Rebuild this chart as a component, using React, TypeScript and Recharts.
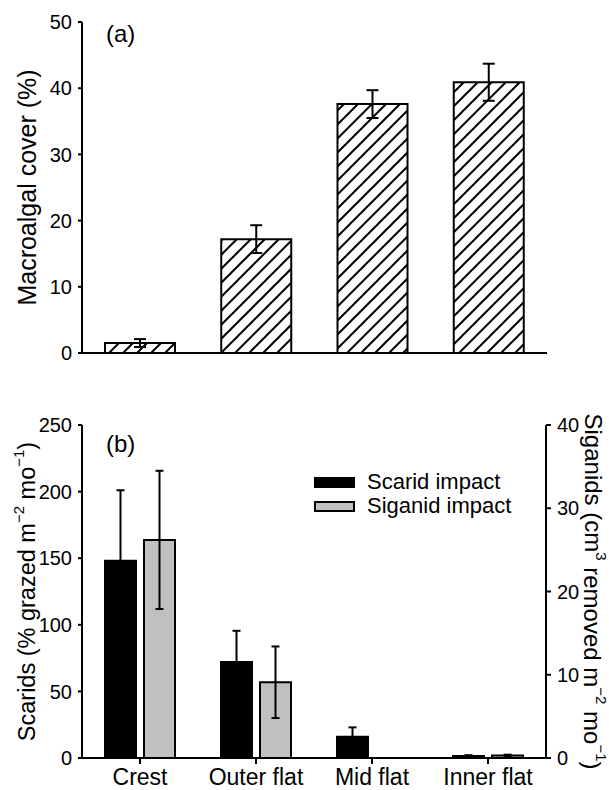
import { BarChart, Bar, XAxis, YAxis, ErrorBar, Legend } from 'recharts';

const zones = ['Crest', 'Outer flat', 'Mid flat', 'Inner flat'];
const coverMean = [1.5, 17.2, 37.6, 40.9];
const coverErr = [0.6, 2.1, 2.1, 2.8];
const scaridMean = [148, 72, 16, 1.5];
const scaridErr = [53, 23.5, 7, 0.6];
const siganidMean = [26.2, 9.1, 0, 0.3];
const siganidErr = [8.3, 4.3, 0, 0.1];
const coverTicks = [0, 10, 20, 30, 40, 50];
const scaridTicks = [0, 50, 100, 150, 200, 250];
const siganidTicks = [0, 10, 20, 30, 40];

const FONT = '"Liberation Sans", Arial, sans-serif';
const axisStyle = { stroke: '#000', strokeWidth: 2 };
const tickStyle = { fontSize: 20, fill: '#000', fontFamily: FONT };

const coverRows = zones.map((z, i) => ({ zone: z, cover: coverMean[i], err: coverErr[i] }));
const grazeRows = zones.map((z, i) => ({
  zone: z,
  scarid: scaridMean[i],
  scaridErr: scaridErr[i],
  siganid: siganidMean[i],
  siganidErr: siganidErr[i],
}));

type VB = { viewBox?: { x: number; y: number; width: number; height: number } };

function LeftTitle({ viewBox, size, children }: VB & { size: number; children: React.ReactNode }) {
  if (!viewBox) return null;
  const cx = viewBox.x + 27;
  const cy = viewBox.y + viewBox.height / 2;
  return (
    <text
      x={cx}
      y={cy}
      transform={`rotate(-90 ${cx} ${cy})`}
      textAnchor="middle"
      dominantBaseline="central"
      fontSize={size}
      fontFamily={FONT}
      fill="#000"
    >
      {children}
    </text>
  );
}

function RightTitle({ viewBox }: VB) {
  if (!viewBox) return null;
  const cx = viewBox.x + 47;
  const cy = viewBox.y + viewBox.height / 2;
  return (
    <text
      x={cx}
      y={cy}
      transform={`rotate(90 ${cx} ${cy})`}
      textAnchor="middle"
      dominantBaseline="central"
      fontSize={24}
      fontFamily={FONT}
      fill="#000"
    >
      Siganids (cm<tspan dy={-9} fontSize={15}>3</tspan>
      <tspan dy={9}> removed m</tspan>
      <tspan dy={-9} fontSize={15}>−2</tspan>
      <tspan dy={9}> mo</tspan>
      <tspan dy={-9} fontSize={15}>−1</tspan>
      <tspan dy={9}>)</tspan>
    </text>
  );
}

function GrazeLegend() {
  const items = [
    { label: 'Scarid impact', fill: '#000' },
    { label: 'Siganid impact', fill: '#c0c0c0' },
  ];
  return (
    <div style={{ fontFamily: FONT, fontSize: 22, color: '#000', lineHeight: '22px' }}>
      {items.map((it) => (
        <div key={it.label} style={{ display: 'flex', alignItems: 'center', height: 24 }}>
          <span
            style={{
              display: 'inline-block',
              width: 37,
              height: 7,
              background: it.fill,
              border: '2px solid #000',
              marginRight: 12,
            }}
          />
          <span>{it.label}</span>
        </div>
      ))}
    </div>
  );
}

export default function App() {
  return (
    <div style={{ position: 'absolute', left: 0, top: 0, width: 609, height: 790, background: '#fff', fontFamily: FONT }}>
      <div style={{ position: 'absolute', left: 0, top: 0 }}>
        <BarChart width={609} height={380} data={coverRows} margin={{ top: 22, right: 62, bottom: 0, left: 0 }} barCategoryGap="20%">
          <defs>
            <pattern id="hatch" patternUnits="userSpaceOnUse" width={14} height={14}>
              <rect width={14} height={14} fill="#fff" />
              <path d="M-1,1 L1,-1 M0,14 L14,0 M13,15 L15,13" stroke="#000" strokeWidth={2} />
            </pattern>
          </defs>
          <XAxis dataKey="zone" height={27} tick={false} tickLine={false} axisLine={axisStyle} />
          <YAxis
            width={82}
            domain={[0, 50]}
            ticks={coverTicks}
            tick={tickStyle}
            tickSize={4}
            tickMargin={6}
            tickLine={axisStyle}
            axisLine={axisStyle}
            label={<LeftTitle size={25}>Macroalgal cover (%)</LeftTitle>}
          />
          <Bar dataKey="cover" fill="url(#hatch)" stroke="#000" strokeWidth={2} barSize={70} isAnimationActive={false}>
            <ErrorBar dataKey="err" width={6} stroke="#000" strokeWidth={2} />
          </Bar>
          <text x={106} y={42} fontSize={24} fontFamily={FONT} fill="#000">(a)</text>
        </BarChart>
      </div>
      <div style={{ position: 'absolute', left: 0, top: 390 }}>
        <BarChart width={609} height={400} data={grazeRows} margin={{ top: 35, right: 0, bottom: 0, left: 0 }} barGap={8}>
          <XAxis
            dataKey="zone"
            height={32}
            tick={{ ...tickStyle, fontSize: 23 }}
            tickSize={6}
            tickMargin={5}
            tickLine={axisStyle}
            axisLine={axisStyle}
            interval={0}
          />
          <YAxis
            yAxisId="left"
            width={82}
            domain={[0, 250]}
            ticks={scaridTicks}
            tick={tickStyle}
            tickSize={4}
            tickMargin={6}
            tickLine={axisStyle}
            axisLine={axisStyle}
            label={
              <LeftTitle size={23.5}>
                Scarids (% grazed m<tspan dy={-9} fontSize={15}>−2</tspan>
                <tspan dy={9}> mo</tspan>
                <tspan dy={-9} fontSize={15}>−1</tspan>
                <tspan dy={9}>)</tspan>
              </LeftTitle>
            }
          />
          <YAxis
            yAxisId="right"
            orientation="right"
            width={63}
            domain={[0, 40]}
            ticks={siganidTicks}
            tick={tickStyle}
            tickSize={5}
            tickMargin={6}
            tickLine={axisStyle}
            axisLine={axisStyle}
            label={<RightTitle />}
          />
          <Legend
            layout="vertical"
            align="center"
            verticalAlign="middle"
            wrapperStyle={{ position: 'absolute', left: 314, top: 80, width: 220 }}
            content={<GrazeLegend />}
          />
          <Bar yAxisId="left" dataKey="scarid" name="Scarid impact" fill="#000" stroke="#000" strokeWidth={2} barSize={31} isAnimationActive={false}>
            <ErrorBar dataKey="scaridErr" width={4} stroke="#000" strokeWidth={2} />
          </Bar>
          <Bar yAxisId="right" dataKey="siganid" name="Siganid impact" fill="#c0c0c0" stroke="#000" strokeWidth={2} barSize={31} isAnimationActive={false}>
            <ErrorBar dataKey="siganidErr" width={4} stroke="#000" strokeWidth={2} />
          </Bar>
          <text x={106} y={62} fontSize={24} fontFamily={FONT} fill="#000">(b)</text>
        </BarChart>
      </div>
    </div>
  );
}
